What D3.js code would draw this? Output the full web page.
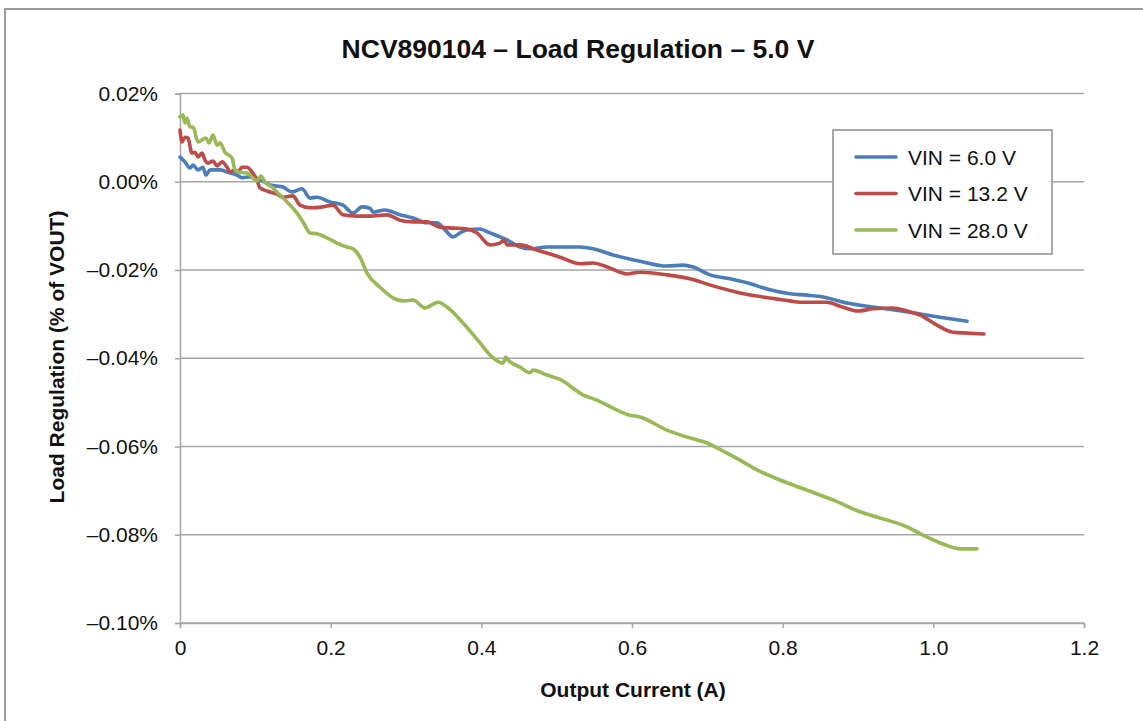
<!DOCTYPE html>
<html><head><meta charset="utf-8">
<script src="https://cdn.jsdelivr.net/npm/d3@7"></script>
<style>body{margin:0;background:#fff;} svg{display:block;font-family:"Liberation Sans",Arial,Helvetica,sans-serif;}</style>
</head><body>
<svg id="chart" width="1143" height="721"></svg>
<script>
const chartTitle = "NCV890104 – Load Regulation – 5.0 V";
const xTitle = "Output Current (A)";
const yTitle = "Load Regulation (% of VOUT)";
const xTicks = [0, 0.2, 0.4, 0.6, 0.8, 1.0, 1.2];
const xTickLabels = ["0", "0.2", "0.4", "0.6", "0.8", "1.0", "1.2"];
const yTicks = [0.02, 0, -0.02, -0.04, -0.06, -0.08, -0.10];
const yTickLabels = ["0.02%", "0.00%", "–0.02%", "–0.04%", "–0.06%", "–0.08%", "–0.10%"];
const seriesNames = ["VIN = 6.0 V", "VIN = 13.2 V", "VIN = 28.0 V"];
const seriesColors = ["#4a7ebb", "#be4b48", "#98b954"];

// [Output current (A), load regulation (%)]
const vin6 = [
[0.000,0.0056],[0.0066,0.0045],[0.0133,0.0031],[0.0173,0.0038],[0.0239,0.0027],[0.0305,0.0033],
[0.0345,0.0015],[0.0398,0.0027],[0.0531,0.0027],[0.0624,0.0022],[0.0757,0.0015],[0.0823,0.0009],
[0.0929,0.0011],[0.1062,0.0004],[0.1195,-0.0007],[0.1367,-0.0012],[0.1487,-0.0023],[0.1619,-0.0016],
[0.1726,-0.0037],[0.1819,-0.0035],[0.1991,-0.0046],[0.2164,-0.0053],[0.2296,-0.0071],[0.2416,-0.0057],
[0.2522,-0.0060],[0.2562,-0.0069],[0.2721,-0.0064],[0.2920,-0.0075],[0.3093,-0.0082],[0.3279,-0.0093],
[0.3411,-0.0093],[0.3518,-0.0109],[0.3624,-0.0125],[0.3717,-0.0116],[0.3810,-0.0109],[0.3982,-0.0107],
[0.4115,-0.0116],[0.4248,-0.0125],[0.4341,-0.0132],[0.4513,-0.0148],[0.4646,-0.0152],[0.4872,-0.0148],
[0.5044,-0.0148],[0.5310,-0.0148],[0.5482,-0.0152],[0.5748,-0.0166],[0.6106,-0.0180],[0.6464,-0.0191],
[0.6677,-0.0189],[0.6810,-0.0193],[0.7035,-0.0211],[0.7301,-0.0220],[0.7526,-0.0229],[0.7832,-0.0245],
[0.8097,-0.0254],[0.8323,-0.0257],[0.8535,-0.0261],[0.8854,-0.0275],[0.9292,-0.0286],[0.9730,-0.0297],
[1.0088,-0.0307],[1.0447,-0.0316]
];
const vin13 = [
[0.000,0.0117],[0.0027,0.0090],[0.0066,0.0101],[0.0106,0.0099],[0.0159,0.0065],[0.0199,0.0067],
[0.0239,0.0056],[0.0292,0.0065],[0.0332,0.0049],[0.0372,0.0042],[0.0438,0.0047],[0.0491,0.0036],
[0.0558,0.0045],[0.0624,0.0033],[0.0664,0.0022],[0.0730,0.0027],[0.0770,0.0022],[0.0823,0.0033],
[0.0889,0.0033],[0.0956,0.0022],[0.1022,0.0004],[0.1062,-0.0014],[0.1155,-0.0021],[0.1288,-0.0028],
[0.1367,-0.0035],[0.1500,-0.0032],[0.1593,-0.0053],[0.1726,-0.0059],[0.1898,-0.0057],[0.2031,-0.0053],
[0.2164,-0.0075],[0.2350,-0.0078],[0.2522,-0.0078],[0.2748,-0.0075],[0.2920,-0.0087],[0.3093,-0.0091],
[0.3279,-0.0091],[0.3451,-0.0103],[0.3624,-0.0105],[0.3810,-0.0107],[0.3942,-0.0116],[0.4115,-0.0143],
[0.4248,-0.0139],[0.4301,-0.0132],[0.4341,-0.0143],[0.4513,-0.0143],[0.4739,-0.0155],[0.5044,-0.0171],
[0.5310,-0.0186],[0.5482,-0.0184],[0.5668,-0.0193],[0.5933,-0.0209],[0.6106,-0.0205],[0.6464,-0.0211],
[0.6770,-0.0220],[0.7075,-0.0236],[0.7434,-0.0252],[0.7659,-0.0259],[0.8097,-0.0270],[0.8230,-0.0273],
[0.8588,-0.0273],[0.8761,-0.0282],[0.9000,-0.0293],[0.9199,-0.0288],[0.9464,-0.0286],[0.9650,-0.0293],
[0.9823,-0.0302],[1.0048,-0.0325],[1.0261,-0.0341],[1.0447,-0.0343],[1.0672,-0.0345]
];
const vin28 = [
[0.000,0.0147],[0.0040,0.0151],[0.0066,0.0133],[0.0093,0.0144],[0.0133,0.0124],[0.0173,0.0124],
[0.0239,0.0090],[0.0292,0.0095],[0.0345,0.0099],[0.0385,0.0088],[0.0438,0.0106],[0.0491,0.0083],
[0.0531,0.0088],[0.0597,0.0067],[0.0690,0.0054],[0.0730,0.0027],[0.0770,0.0022],[0.0889,0.0020],
[0.0969,0.0008],[0.1022,0.0002],[0.1075,0.0013],[0.1128,-0.0001],[0.1221,-0.0012],[0.1327,-0.0030],
[0.1434,-0.0048],[0.1553,-0.0071],[0.1633,-0.0091],[0.1726,-0.0116],[0.1819,-0.0118],[0.1951,-0.0127],
[0.2084,-0.0139],[0.2217,-0.0148],[0.2296,-0.0152],[0.2389,-0.0171],[0.2482,-0.0207],[0.2655,-0.0239],
[0.2827,-0.0263],[0.2960,-0.0270],[0.3093,-0.0268],[0.3252,-0.0286],[0.3425,-0.0273],[0.3544,-0.0284],
[0.3757,-0.0320],[0.3982,-0.0365],[0.4141,-0.0397],[0.4288,-0.0411],[0.4327,-0.0397],[0.4354,-0.0404],
[0.4513,-0.0420],[0.4646,-0.0433],[0.4686,-0.0427],[0.4872,-0.0438],[0.5044,-0.0448],[0.5349,-0.0483],
[0.5535,-0.0495],[0.5748,-0.0513],[0.5973,-0.0529],[0.6106,-0.0533],[0.6464,-0.0563],[0.6677,-0.0576],
[0.6996,-0.0592],[0.7261,-0.0615],[0.7434,-0.0631],[0.7659,-0.0653],[0.7964,-0.0676],[0.8323,-0.0699],
[0.8668,-0.0721],[0.9026,-0.0748],[0.9292,-0.0762],[0.9650,-0.0782],[0.9863,-0.0801],[1.0128,-0.0821],
[1.0354,-0.0832],[1.0580,-0.0832]
];
const allSeries = [vin6, vin13, vin28];

const svg = d3.select("#chart");
const M = {left:180, right:1084, top:93.5, bottom:623};
const x = d3.scaleLinear().domain([0,1.2]).range([M.left, M.right]);
const y = d3.scaleLinear().domain([-0.10,0.02]).range([M.bottom, M.top]);

// outer frame
svg.append("rect").attr("x",5).attr("y",9).attr("width",1300).attr("height",900)
  .attr("fill","none").attr("stroke","#9a9a9a").attr("stroke-width",2);

// gridlines
svg.append("g").selectAll("line").data(yTicks).join("line")
  .attr("x1",M.left).attr("x2",M.right).attr("y1",d=>y(d)).attr("y2",d=>y(d))
  .attr("stroke","#a6a6a6").attr("stroke-width",1.5);

// y axis
const yAxis = d3.axisLeft(y).tickValues(yTicks).tickSize(5).tickPadding(17)
  .tickFormat((d,i)=>yTickLabels[i]);
const gy = svg.append("g").attr("transform",`translate(${M.left},0)`).call(yAxis);
gy.select(".domain").attr("stroke","#a6a6a6").attr("stroke-width",1.5);
gy.selectAll(".tick line").attr("stroke","#a6a6a6").attr("stroke-width",1.5);
gy.selectAll(".tick text").attr("font-size",21).attr("fill","#111")
  .attr("font-family","'Liberation Sans',Arial,sans-serif");

// x axis
const xAxis = d3.axisBottom(x).tickValues(xTicks).tickSize(5).tickPadding(12)
  .tickFormat((d,i)=>xTickLabels[i]);
const gx = svg.append("g").attr("transform",`translate(0,${M.bottom})`).call(xAxis);
gx.select(".domain").attr("stroke","#a6a6a6").attr("stroke-width",1.5);
gx.selectAll(".tick line").attr("stroke","#a6a6a6").attr("stroke-width",1.5);
gx.selectAll(".tick text").attr("font-size",21).attr("fill","#111")
  .attr("font-family","'Liberation Sans',Arial,sans-serif");

// lines
const line = d3.line().x(d=>x(d[0])).y(d=>y(d[1])).curve(d3.curveMonotoneX);
svg.append("g").selectAll("path").data(allSeries).join("path")
  .attr("d",line).attr("fill","none")
  .attr("stroke",(d,i)=>seriesColors[i]).attr("stroke-width",3.6)
  .attr("stroke-linejoin","round").attr("stroke-linecap","round");

// titles
svg.append("text").attr("x",578).attr("y",58).attr("text-anchor","middle")
  .attr("font-size",26.5).attr("font-weight","bold").attr("fill","#111").text(chartTitle);
svg.append("text").attr("x",633).attr("y",697).attr("text-anchor","middle")
  .attr("font-size",21).attr("font-weight","bold").attr("fill","#111").text(xTitle);
svg.append("text").attr("transform","translate(64,357) rotate(-90)").attr("text-anchor","middle")
  .attr("font-size",21).attr("font-weight","bold").attr("fill","#111").text(yTitle);

// legend
const lg = svg.append("g");
lg.append("rect").attr("x",833).attr("y",130).attr("width",219).attr("height",124)
  .attr("fill","#fff").attr("stroke","#8c8c8c").attr("stroke-width",1.5);
const rows = lg.selectAll("g.row").data(seriesNames).join("g").attr("class","row")
  .attr("transform",(d,i)=>`translate(0,${157+i*36.5})`);
rows.append("line").attr("x1",856).attr("x2",896).attr("y1",0).attr("y2",0)
  .attr("stroke",(d,i)=>seriesColors[i]).attr("stroke-width",3.6).attr("stroke-linecap","round");
rows.append("text").attr("x",908).attr("y",7.5).attr("font-size",21).attr("fill","#111").text(d=>d);
</script>
</body></html>
